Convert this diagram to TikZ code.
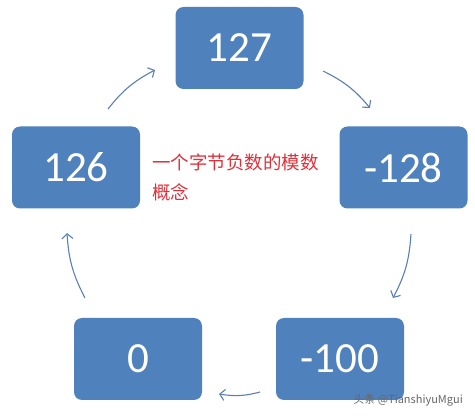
\documentclass[tikz,border=0pt]{standalone}
\usepackage{fontspec}
\setmainfont{Carlito}
\newfontfamily\cjk{Noto Sans CJK SC}
\usetikzlibrary{arrows.meta}
\definecolor{boxblue}{HTML}{4F81BD}
\definecolor{arrowblue}{HTML}{5A7FB6}
\definecolor{notered}{HTML}{E0303A}
\begin{document}
\begin{tikzpicture}[x=1pt, y=1pt,
		numbox/.style={fill=boxblue, rounded corners=8pt, minimum width=128pt, minimum height=82pt,
			inner sep=0pt, text=white, font=\fontsize{43}{43}\selectfont},
		cyclearrow/.style={draw=arrowblue, line width=1.1pt, -{Straight Barb[length=5pt, width=11pt]}, bend left=12}]
		\useasboundingbox (0,0) rectangle (475,-417);
		
		% 五个数
		\foreach \nm/\x/\y/\val in {a/239.5/48/127, b/403.5/167.5/-128, c/340/359/-100, d/138/359/0, e/76/167.5/126}{
			\node[numbox] (\nm) at (\x,-\y) {\val};
		}
		
		% 箭头的端点
		\foreach \nm/\x/\y in {s1/108/109, t1/155/70, s2/323/71, t2/370/108, s3/411/234, t3/393/298,
			s4/260/392, t4/219/394, s5/85/298, t5/67/233}{
			\coordinate (\nm) at (\x,-\y);
		}
		
		% 循环箭头
		\foreach \i in {1,...,5}{
			\draw[cyclearrow] (s\i) to (t\i);
		}
		
		% 说明文字
		\node[anchor=north west, align=left, inner sep=0pt, text=notered,
			font=\cjk\fontsize{18.5}{30}\selectfont] (note) at (152,-154) {一个字节负数的模数\\概念};
		
		% 水印
		\node[anchor=east, inner sep=0pt, text=black!60, font=\cjk\fontsize{11}{11}\selectfont] (mark) at (463,-400) {头条 @TianshiyuMgui};
	\end{tikzpicture}
\end{document}
